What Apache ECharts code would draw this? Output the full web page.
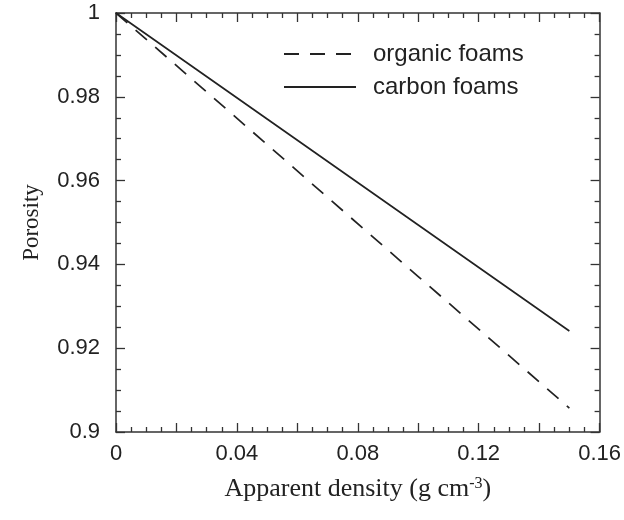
<!DOCTYPE html>
<html>
<head>
<meta charset="utf-8">
<script src="https://cdn.jsdelivr.net/npm/echarts@6/dist/echarts.min.js"></script>
<style>html,body{margin:0;padding:0;background:#fff;}#c{width:624px;height:520px;}</style>
</head>
<body>
<div id="c"></div>
<script>
var density = [0, 0.05, 0.10, 0.15];
var organicFoams = [1.0, 0.9686, 0.9371, 0.9057];
var carbonFoams = [1.0, 0.9747, 0.9494, 0.9241];
var xTickLabels = ['0', '0.04', '0.08', '0.12', '0.16'];
var yTickLabels = ['0.9', '0.92', '0.94', '0.96', '0.98', '1'];

function pairs(xs, ys) { return xs.map(function (x, i) { return [x, ys[i]]; }); }

var chart = echarts.init(document.getElementById('c'));
var axisCol = '#333';
function tick() { return { show: true, inside: true, length: 9, lineStyle: { color: axisCol, width: 1.3 } }; }
function minor() { return { show: true, splitNumber: 4, length: 5, lineStyle: { color: axisCol, width: 1.3 } }; }
function line() { return { show: true, onZero: false, lineStyle: { color: axisCol, width: 1.5 } }; }
function xFmt(v) {
  var k = Math.round(v / 0.02);
  if (k % 2 !== 0) return '';
  return xTickLabels[k / 2];
}
function yFmt(v) {
  var k = Math.round((v - 0.9) / 0.02);
  return yTickLabels[k];
}

chart.setOption({
  animation: false,
  backgroundColor: '#fff',
  grid: { left: 116, top: 13, right: 24, bottom: 88 },
  legend: {
    orient: 'vertical', left: 278, top: 37,
    itemWidth: 72, itemHeight: 14, itemGap: 9,
    itemStyle: { opacity: 0 },
    textStyle: { fontFamily: 'Liberation Sans, Arial', fontSize: 24, color: '#222', padding: [0, 0, 0, 12] },
    data: ['organic foams', 'carbon foams']
  },
  xAxis: [{
    type: 'value', min: 0, max: 0.16, interval: 0.02, position: 'bottom',
    axisLine: line(), axisTick: tick(), minorTick: minor(),
    splitLine: { show: false },
    axisLabel: { formatter: xFmt, fontFamily: 'Liberation Sans, Arial', fontSize: 22, color: '#222', margin: 11 },
    name: 'Apparent density (g cm{sup|-3})',
    nameLocation: 'middle', nameGap: 44,
    nameTextStyle: {
      fontFamily: 'Liberation Serif, Times New Roman', fontSize: 26, color: '#222',
      rich: { sup: { fontFamily: 'Liberation Serif', fontSize: 16, verticalAlign: 'top', color: '#222', padding: [0, 0, 10, 0] } }
    }
  }, {
    type: 'value', min: 0, max: 0.16, interval: 0.02, position: 'top',
    axisLine: line(), axisTick: tick(), minorTick: minor(),
    splitLine: { show: false }, axisLabel: { show: false }
  }],
  yAxis: [{
    type: 'value', min: 0.9, max: 1.0, interval: 0.02, position: 'left',
    axisLine: line(), axisTick: tick(), minorTick: minor(),
    splitLine: { show: false },
    axisLabel: { formatter: yFmt, fontFamily: 'Liberation Sans, Arial', fontSize: 22, color: '#222', margin: 16 },
    name: 'Porosity', nameLocation: 'middle', nameGap: 73,
    nameTextStyle: { fontFamily: 'Liberation Serif, Times New Roman', fontSize: 23, color: '#222' }
  }, {
    type: 'value', min: 0.9, max: 1.0, interval: 0.02, position: 'right',
    axisLine: line(), axisTick: tick(), minorTick: minor(),
    splitLine: { show: false }, axisLabel: { show: false }
  }],
  series: [{
    name: 'organic foams', type: 'line', symbol: 'none',
    data: pairs(density, organicFoams),
    lineStyle: { color: '#222', width: 1.7, type: [15, 11] },
    itemStyle: { color: '#222' }
  }, {
    name: 'carbon foams', type: 'line', symbol: 'none',
    data: pairs(density, carbonFoams),
    lineStyle: { color: '#222', width: 1.7, type: 'solid' },
    itemStyle: { color: '#222' }
  }]
});
</script>
</body>
</html>
